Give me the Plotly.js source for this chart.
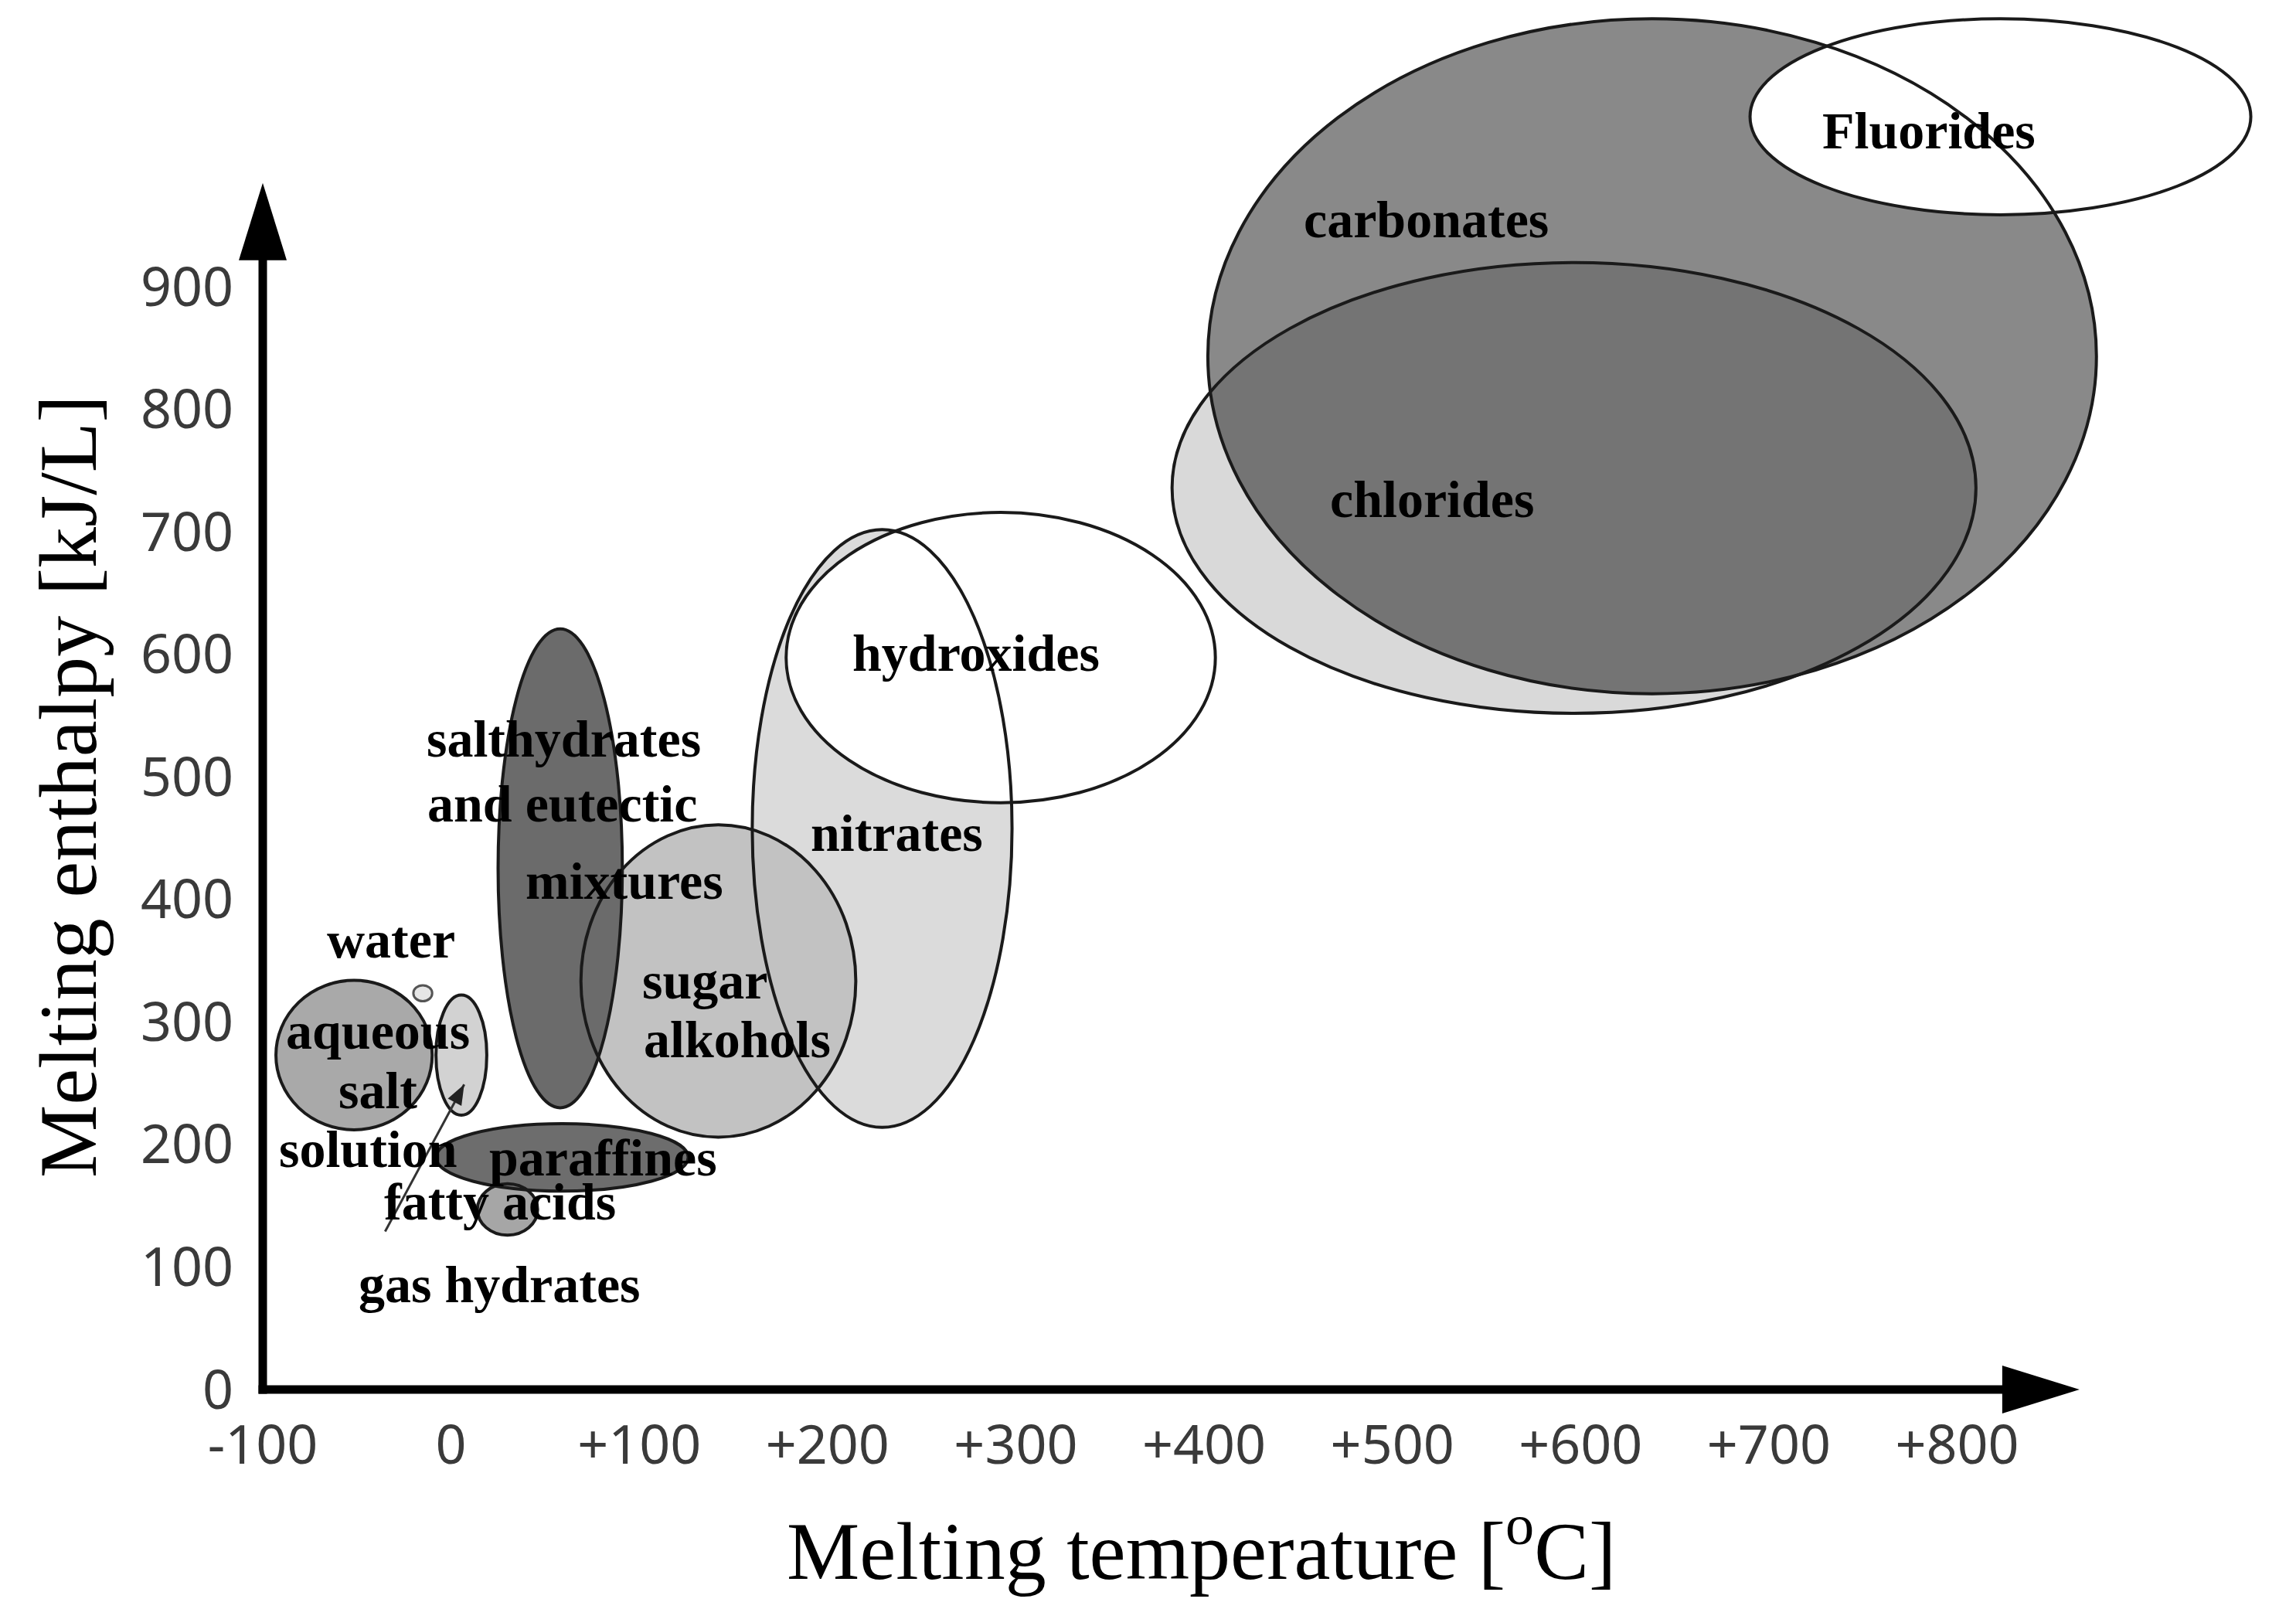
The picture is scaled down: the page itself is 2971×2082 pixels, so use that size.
<!DOCTYPE html>
<html>
<head>
<meta charset="utf-8">
<script src="https://cdn.plot.ly/plotly-3.0.1.min.js"></script>
<style>
html, body { margin: 0; padding: 0; background: #ffffff; }
#chart { width: 2971px; height: 2082px; }
</style>
</head>
<body>
<div id="chart"></div>
<script>
// ---------------- DATA ----------------
// Material classes, in drawing order (later ones drawn on top)
const materials = ['carbonates', 'chlorides', 'fluorides', 'nitrates', 'hydroxides',
  'sugar alcohols', 'salt hydrates', 'aqueous salt solution', 'water', 'gas hydrates',
  'fatty acids', 'paraffines'];
// Melting temperature range [°C]
const tempMin = [402, 383, 690, 160, 178, 69, 25, -93, -20, -8, 14, -8];
const tempMax = [874, 810, 956, 298, 406, 215, 91, -10, -10, 19, 46, 126];
// Melting enthalpy range [kJ/L]
const enthMin = [568, 552, 959, 214, 479, 206, 230, 212, 317, 224, 126, 162];
const enthMax = [1119, 920, 1119, 702, 716, 461, 621, 334, 330, 322, 168, 217];

// Region labels and where they sit (temperature, enthalpy)
const labelText = ['Fluorides', 'carbonates', 'chlorides', 'hydroxides', 'nitrates',
  'salthydrates', 'and eutectic', 'mixtures', 'water', 'aqueous', 'salt', 'solution',
  'paraffines', 'fatty acids', 'gas hydrates', 'sugar', 'alkohols'];
const labelT = [785, 518, 521, 279, 237, 60, 59, 92, -32, -39, -39, -44, 81, 26, 26, 135, 152];
const labelH = [1028, 955, 727, 601, 454, 531, 478, 415, 367, 293, 244, 196, 189, 153, 86, 334, 286];

// Pointer from the gas hydrates label to their region (temperature, enthalpy)
const pointerTail = [-35, 129];
const pointerHead = [7, 249];

// Axis ticks
const xTickVals = [-100, 0, 100, 200, 300, 400, 500, 600, 700, 800];
const xTickText = ['-100', '0', '+100', '+200', '+300', '+400', '+500', '+600', '+700', '+800'];
const yTickVals = [0, 100, 200, 300, 400, 500, 600, 700, 800, 900];
const yTickText = ['0', '100', '200', '300', '400', '500', '600', '700', '800', '900'];

// ---------------- STYLE ----------------
// chlorides is a translucent dark veil: light where alone, darker where it lies over carbonates
const fillColor = {
  'carbonates': '#898989', 'chlorides': 'rgba(0,0,0,0.15)', 'fluorides': '#ffffff',
  'nitrates': '#dbdbdb', 'hydroxides': '#ffffff', 'sugar alcohols': '#c2c2c2',
  'salt hydrates': '#6b6b6b', 'aqueous salt solution': '#a9a9a9', 'water': '#e6e6e6',
  'gas hydrates': '#d2d2d2', 'fatty acids': '#a6a6a6', 'paraffines': '#6d6d6d'
};
const outline = { color: '#1a1a1a', width: 4 };

const W = 2971, H = 2082;
const M = { l: 340, r: 0, t: 10, b: 284 };
const X_RANGE = [-100, 980];
const Y_RANGE = [0, 1128];
const X_AXIS_END = 865;   // arrow tip of the temperature axis (data units)
const Y_AXIS_END = 985;   // arrow tip of the enthalpy axis (data units)
const AXIS_W = 11, HEAD_LEN = 100, HEAD_HALF = 31;
const PTR_HEAD_LEN = 26, PTR_HEAD_HALF = 10;

const plotW = W - M.l - M.r, plotH = H - M.t - M.b;
const px2x = p => p / plotW, px2y = p => p / plotH;
const dx2paper = v => (v - X_RANGE[0]) / (X_RANGE[1] - X_RANGE[0]);
const dy2paper = v => (v - Y_RANGE[0]) / (Y_RANGE[1] - Y_RANGE[0]);

// ---------------- SHAPES ----------------
const shapes = [];
// fills first
materials.forEach((m, i) => {
  shapes.push({
    type: 'circle', xref: 'x', yref: 'y',
    x0: tempMin[i], x1: tempMax[i], y0: enthMin[i], y1: enthMax[i],
    fillcolor: fillColor[m], line: { width: 0 }, layer: 'above'
  });
});
// outlines on top of every fill
materials.forEach((m, i) => {
  shapes.push({
    type: 'circle', xref: 'x', yref: 'y',
    x0: tempMin[i], x1: tempMax[i], y0: enthMin[i], y1: enthMax[i],
    fillcolor: 'rgba(0,0,0,0)',
    line: m === 'water' ? { color: '#555', width: 3 } : outline, layer: 'above'
  });
});
// pointer line + its head (head drawn in pixels around the data anchor)
shapes.push({
  type: 'line', xref: 'x', yref: 'y',
  x0: pointerTail[0], y0: pointerTail[1], x1: pointerHead[0], y1: pointerHead[1],
  line: { color: '#333', width: 3 }, layer: 'above'
});
(function () {
  const pxPerX = plotW / (X_RANGE[1] - X_RANGE[0]);
  const pxPerY = plotH / (Y_RANGE[1] - Y_RANGE[0]);
  const vx = (pointerHead[0] - pointerTail[0]) * pxPerX;
  const vy = (pointerHead[1] - pointerTail[1]) * pxPerY;
  const len = Math.hypot(vx, vy), ux = vx / len, uy = vy / len;
  const bx = -ux * PTR_HEAD_LEN, by = -uy * PTR_HEAD_LEN;
  const nx = -uy * PTR_HEAD_HALF, ny = ux * PTR_HEAD_HALF;
  shapes.push({
    type: 'path', xref: 'x', yref: 'y', xsizemode: 'pixel', ysizemode: 'pixel',
    xanchor: pointerHead[0], yanchor: pointerHead[1],
    path: `M 0,0 L ${bx + nx},${by + ny} L ${bx - nx},${by - ny} Z`,
    fillcolor: '#222', line: { width: 0 }, layer: 'above'
  });
})();
// axis arrows
const xTip = dx2paper(X_AXIS_END), yTip = dy2paper(Y_AXIS_END);
const xBase = xTip - px2x(HEAD_LEN), yBase = yTip - px2y(HEAD_LEN);
shapes.push({ type: 'line', xref: 'paper', yref: 'paper', x0: -px2x(AXIS_W / 2), x1: xBase + px2x(2), y0: 0, y1: 0,
  line: { color: '#000', width: AXIS_W } });
shapes.push({ type: 'line', xref: 'paper', yref: 'paper', x0: 0, x1: 0, y0: -px2y(AXIS_W / 2), y1: yBase + px2y(2),
  line: { color: '#000', width: AXIS_W } });
shapes.push({ type: 'path', xref: 'paper', yref: 'paper', fillcolor: '#000', line: { width: 0 },
  path: `M ${xBase},${px2y(HEAD_HALF)} L ${xTip},0 L ${xBase},${-px2y(HEAD_HALF)} Z` });
shapes.push({ type: 'path', xref: 'paper', yref: 'paper', fillcolor: '#000', line: { width: 0 },
  path: `M ${-px2x(HEAD_HALF)},${yBase} L 0,${yTip} L ${px2x(HEAD_HALF)},${yBase} Z` });

// ---------------- ANNOTATIONS ----------------
const labelFont = { family: 'Liberation Serif, Times New Roman, serif', size: 68, color: '#000' };
const annotations = labelText.map((t, i) => ({
  x: labelT[i], y: labelH[i], xref: 'x', yref: 'y', text: '<b>' + t + '</b>',
  showarrow: false, xanchor: 'center', yanchor: 'middle', font: labelFont
}));
const titleFont = { family: 'Liberation Serif, Times New Roman, serif', size: 106, color: '#000' };
annotations.push({
  xref: 'paper', yref: 'paper', x: px2x(1554 - M.l), y: -px2y(1999 - (H - M.b)),
  text: 'Melting temperature [<sup>o</sup>C]', showarrow: false,
  xanchor: 'center', yanchor: 'middle', font: titleFont
});
annotations.push({
  xref: 'paper', yref: 'paper', x: -px2x(M.l - 88), y: px2y((H - M.b) - 1018),
  text: 'Melting enthalpy [kJ/L]', showarrow: false, textangle: -90,
  xanchor: 'center', yanchor: 'middle', font: titleFont
});

const tickFont = { family: 'Noto Sans, DejaVu Sans, sans-serif', size: 70, color: '#3a3a3a' };
const layout = {
  width: W, height: H,
  margin: { l: M.l, r: M.r, t: M.t, b: M.b, pad: 0 },
  paper_bgcolor: '#ffffff', plot_bgcolor: '#ffffff',
  showlegend: false,
  xaxis: {
    range: X_RANGE, tickmode: 'array', tickvals: xTickVals, ticktext: xTickText,
    showgrid: false, zeroline: false, showline: false,
    ticks: 'outside', ticklen: 11, tickcolor: 'rgba(0,0,0,0)', tickfont: tickFont, fixedrange: true
  },
  yaxis: {
    range: Y_RANGE, tickmode: 'array', tickvals: yTickVals, ticktext: yTickText,
    showgrid: false, zeroline: false, showline: false,
    ticks: 'outside', ticklen: 23, tickcolor: 'rgba(0,0,0,0)', tickfont: tickFont, fixedrange: true
  },
  shapes: shapes,
  annotations: annotations
};

Plotly.newPlot('chart', [], layout, { staticPlot: true, displayModeBar: false });
</script>
</body>
</html>
